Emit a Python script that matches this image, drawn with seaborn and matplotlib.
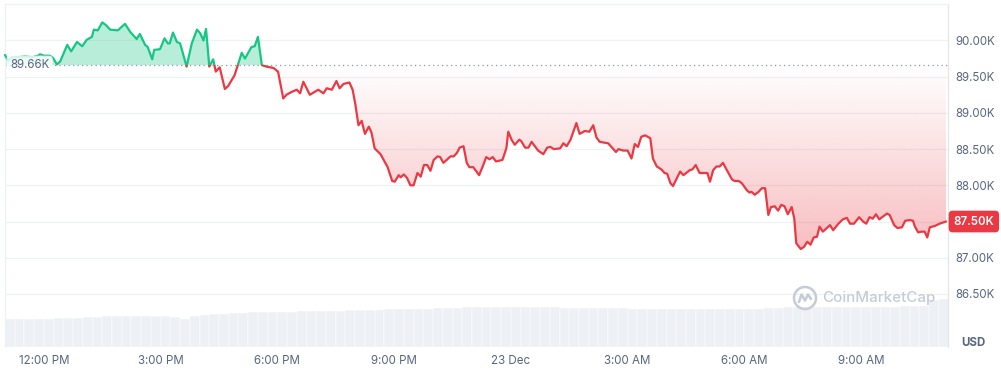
import numpy as np
import pandas as pd
import matplotlib
matplotlib.use("Agg")
import matplotlib.pyplot as plt
import seaborn as sns
from matplotlib.patches import Rectangle, PathPatch, Ellipse
from matplotlib.path import Path
from matplotlib.lines import Line2D
import matplotlib.transforms as mtransforms

# ---------------- data ----------------
# minutes since 11:00 AM, 22 Dec
minutes = [0, 5, 11, 20, 31, 42, 51, 54, 60, 69, 74, 80, 85, 96, 102, 111, 119, 126, 134, 137,
           143, 150, 156, 162, 174, 185, 193, 203, 208, 216, 220, 227, 230, 239, 246, 251, 254, 259, 265, 270,
           280, 288, 296, 301, 306, 310, 315, 321, 325, 331, 339, 344, 354, 360, 365, 370, 380, 385, 390, 396,
           403, 414, 421, 429, 434, 442, 450, 455, 460, 470, 483, 491, 496, 504, 511, 516, 522, 531, 536, 540,
           545, 550, 555, 561, 565, 570, 579, 590, 597, 601, 607, 610, 615, 620, 625, 630, 636, 641, 646, 651,
           656, 661, 667, 671, 676, 682, 687, 692, 697, 701, 707, 712, 716, 722, 731, 737, 742, 747, 752, 757,
           767, 773, 776, 781, 786, 793, 796, 802, 807, 812, 817, 822, 830, 836, 841, 846, 856, 861, 866, 872,
           881, 886, 894, 901, 907, 912, 917, 930, 942, 946, 953, 960, 966, 971, 976, 981, 987, 995, 999, 1005,
           1012, 1017, 1021, 1026, 1030, 1041, 1046, 1056, 1060, 1065, 1071, 1079, 1083, 1087, 1092, 1097, 1102, 1107, 1113, 1121,
           1125, 1131, 1136, 1144, 1148, 1151, 1156, 1162, 1167, 1172, 1177, 1181, 1187, 1192, 1197, 1202, 1207, 1213, 1217, 1220,
           1227, 1232, 1237, 1242, 1247, 1252, 1256, 1261, 1267, 1272, 1277, 1285, 1292, 1298, 1303, 1309, 1317, 1323, 1328, 1333,
           1338, 1343, 1348, 1354, 1360, 1364, 1371, 1376, 1383, 1388, 1395, 1400, 1403, 1408, 1413, 1418, 1422, 1426, 1434, 1441,
           1451]

prices = [89800, 89720, 89770, 89770, 89780, 89770, 89790, 89810, 89790, 89790, 89760, 89670, 89710, 89940, 89850, 89980, 89920, 90010, 90050, 90150,
          90140, 90250, 90210, 90150, 90140, 90230, 90120, 90020, 90090, 89940, 89910, 89740, 89870, 89880, 90030, 89960, 89960, 90110, 89980, 89960,
          89640, 89960, 90150, 90100, 90000, 90160, 89640, 89740, 89570, 89630, 89330, 89370, 89520, 89690, 89830, 89750, 89910, 89920, 90050, 89660,
          89640, 89620, 89570, 89200, 89250, 89290, 89320, 89270, 89430, 89250, 89320, 89270, 89340, 89320, 89440, 89340, 89400, 89420, 89320, 89130,
          88830, 88890, 88710, 88810, 88730, 88510, 88430, 88250, 88060, 88050, 88140, 88110, 88150, 88100, 88000, 88000, 88170, 88120, 88280, 88280,
          88200, 88350, 88400, 88390, 88310, 88360, 88400, 88400, 88450, 88520, 88540, 88310, 88250, 88250, 88140, 88270, 88390, 88360, 88390, 88330,
          88350, 88510, 88740, 88630, 88560, 88630, 88610, 88520, 88520, 88600, 88540, 88480, 88430, 88520, 88530, 88500, 88510, 88580, 88540, 88630,
          88860, 88710, 88750, 88740, 88830, 88660, 88600, 88580, 88460, 88500, 88480, 88480, 88370, 88570, 88530, 88670, 88690, 88650, 88370, 88260,
          88220, 88170, 88160, 88030, 87990, 88190, 88140, 88210, 88220, 88280, 88170, 88170, 88170, 88050, 88210, 88260, 88260, 88310, 88210, 88080,
          88060, 88060, 88030, 87930, 87900, 87910, 87870, 87910, 87960, 87960, 87590, 87700, 87710, 87650, 87730, 87710, 87600, 87700, 87540, 87200,
          87120, 87150, 87220, 87180, 87280, 87290, 87430, 87360, 87410, 87450, 87380, 87470, 87530, 87550, 87470, 87470, 87560, 87500, 87470, 87560,
          87540, 87600, 87530, 87570, 87610, 87590, 87450, 87410, 87420, 87510, 87520, 87510, 87430, 87350, 87360, 87360, 87280, 87420, 87440, 87470,
          87500]

baseline_price = 89660
last_price = 87500

# 24h volume per 15-minute bucket (USD billions)
volume_b = [28, 28, 28, 28, 28, 29, 29, 29, 30, 30, 31, 31, 31, 31, 31, 31, 31, 30, 28, 31,
            32, 33, 33, 34, 34, 35, 35, 35, 35, 35.5, 36, 36, 36, 36, 36.5, 37, 37, 37, 37.5, 38,
            38, 38, 38, 38.5, 39.5, 39.5, 39.5, 40, 40, 40, 40.5, 40.5, 40.5, 40.5, 40.5, 40, 40, 39.5, 39.5, 39.5,
            39.5, 39, 39, 39, 38.5, 38.5, 38.5, 38.5, 38.5, 38.5, 38.5, 38.5, 38.5, 38.5, 38.5, 38.5, 38.5, 38.5, 39.5, 39.5,
            40, 40.5, 40.5, 40.5, 40.5, 40.5, 40.5, 40.5, 40.5, 40.5, 40.5, 40.5, 41, 41, 41.5, 47, 48]
volume_bucket_minutes = 15

price_ticks = [86500, 87000, 87500, 88000, 88500, 89000, 89500, 90000]
time_tick_minutes = [60, 240, 420, 600, 780, 960, 1140, 1320]
time_tick_labels = ["12:00 PM", "3:00 PM", "6:00 PM", "9:00 PM", "23 Dec", "3:00 AM", "6:00 AM", "9:00 AM"]

# ---------------- style ----------------
GREEN = "#16c784"
RED = "#ea3943"
TXT = "#58667e"
GRID = "#eff2f5"

sns.set_theme(style="white")
plt.rcParams['font.family'] = ['Inter', 'DejaVu Sans']

W, H = 1001, 370
fig = plt.figure(figsize=(W / 100, H / 100), dpi=100)
fig.patch.set_facecolor("white")
rect = [5 / W, 1 - 347 / H, 943 / W, 343 / H]

X0, X1 = 0, 1454
Y0, Y1 = 85767, 90504

# volume axes (behind)
vax = fig.add_axes(rect, zorder=0)
vol_x = np.arange(len(volume_b)) * volume_bucket_minutes
vax.bar(vol_x, volume_b, width=volume_bucket_minutes, align="edge",
        color="#edf0f4", edgecolor="white", linewidth=0.35)
vax.set_xlim(X0, X1)
vax.set_ylim(0, 343)
vax.axis("off")

# price axes
ax = fig.add_axes(rect, zorder=1)
ax.patch.set_alpha(0)

df = pd.DataFrame({"minute": minutes, "price": prices})
p = np.array(prices, dtype=float)
m = np.array(minutes, dtype=float)

# green area above baseline
ax.fill_between(m, p, baseline_price, where=p >= baseline_price, interpolate=True,
                color=GREEN, alpha=0.30, linewidth=0, zorder=1)

# red gradient area below baseline
poly = ax.fill_between(m, p, baseline_price, where=p <= baseline_price, interpolate=True,
                       facecolor="none", edgecolor="none", linewidth=0)
compound = Path.make_compound_path(*poly.get_paths())
clip_patch = PathPatch(compound, transform=ax.transData, facecolor="none", edgecolor="none")
ax.add_patch(clip_patch)
grad = np.zeros((256, 1, 4))
grad[..., 0:3] = matplotlib.colors.to_rgb(RED)
grad[:, 0, 3] = np.linspace(0.33, 0.0, 256)
im = ax.imshow(grad, extent=[X0, X1, p.min(), baseline_price], origin="lower",
               aspect="auto", zorder=1, interpolation="bilinear")
im.set_clip_path(clip_patch)

# baseline dotted line
ax.axhline(baseline_price, color="#8f98a8", linestyle=(0, (1, 2.6)), linewidth=0.9, zorder=1.5)

# price line: green above, red below
sns.lineplot(data=df, x="minute", y="price", ax=ax, color=GREEN, linewidth=1.6,
             estimator=None, sort=False, zorder=3)
line_g = ax.lines[-1]
sns.lineplot(data=df, x="minute", y="price", ax=ax, color=RED, linewidth=1.6,
             estimator=None, sort=False, zorder=3)
line_r = ax.lines[-1]
rect_up = Rectangle((X0 - 100, baseline_price), X1 + 200, 10000, transform=ax.transData)
rect_dn = Rectangle((X0 - 100, baseline_price - 10000), X1 + 200, 10000, transform=ax.transData)
line_g.set_clip_path(rect_up)
line_r.set_clip_path(rect_dn)
for ln in (line_g, line_r):
    ln.set_solid_joinstyle("round")
    ln.set_solid_capstyle("round")

ax.set_xlim(X0, X1)
ax.set_ylim(Y0, Y1)
ax.set_xlabel("")
ax.set_ylabel("")

# axes styling
ax.yaxis.tick_right()
ax.set_yticks(price_ticks)
ax.set_yticklabels([f"{v / 1000:.2f}K" for v in price_ticks])
ax.set_xticks(time_tick_minutes)
ax.set_xticklabels(time_tick_labels)
ax.tick_params(axis="y", length=0, pad=5, labelsize=8.3, labelcolor=TXT)
ax.tick_params(axis="x", length=0, pad=5.4, labelsize=8.3, labelcolor=TXT)
ax.grid(True, axis="y", color=GRID, linewidth=0.9, zorder=0)
ax.grid(False, axis="x")
ax.set_axisbelow(True)
for side in ("left", "top"):
    ax.spines[side].set_color(GRID)
    ax.spines[side].set_linewidth(0.9)
ax.spines["right"].set_color("#e3e7ec")
ax.spines["right"].set_linewidth(0.9)
ax.spines["bottom"].set_visible(False)

# baseline label
ax.text(5 / 943, baseline_price, "89.66K", transform=ax.get_yaxis_transform(),
        ha="left", va="center", fontsize=8.3, color=TXT, zorder=5,
        bbox=dict(boxstyle="round,pad=0.3,rounding_size=0.3", fc="white", ec="none", alpha=0.8))

# last price badge
blend = mtransforms.blended_transform_factory(ax.transAxes, ax.transData)
ax.text(1 + 5.5 / 943, last_price, f"{last_price / 1000:.2f}K", transform=blend,
        ha="left", va="center", fontsize=8.3, color="white", fontweight="semibold",
        zorder=10, clip_on=False,
        bbox=dict(boxstyle="round,pad=0.42,rounding_size=0.35", fc=RED, ec="none"))

# currency label
fig.text(973 / W, 1 - 343 / H, "USD", ha="center", va="center", fontsize=8.3,
         fontweight="bold", color=TXT)

# watermark
WM = "#c5ccd6"
fig.text(822 / W, 1 - 298 / H, "CoinMarketCap", ha="left", va="center",
         fontsize=10.9, color=WM, fontweight="medium", zorder=3)
cx, cy, r = 805, 298, 11
fig.add_artist(Ellipse((cx / W, 1 - cy / H), 2 * r / W, 2 * r / H, transform=fig.transFigure,
                       facecolor="none", edgecolor=WM, linewidth=1.8, zorder=3))
zig = [(-6, 4), (-3.5, -3.5), (0, 2.5), (3, -3.5), (6, 1)]
fig.add_artist(Line2D([(cx + dx) / W for dx, dy in zig], [1 - (cy + dy) / H for dx, dy in zig],
                      transform=fig.transFigure, color=WM, linewidth=1.8, zorder=3,
                      solid_joinstyle="round", solid_capstyle="round"))

fig.savefig("out.png", dpi=100, facecolor="white")
